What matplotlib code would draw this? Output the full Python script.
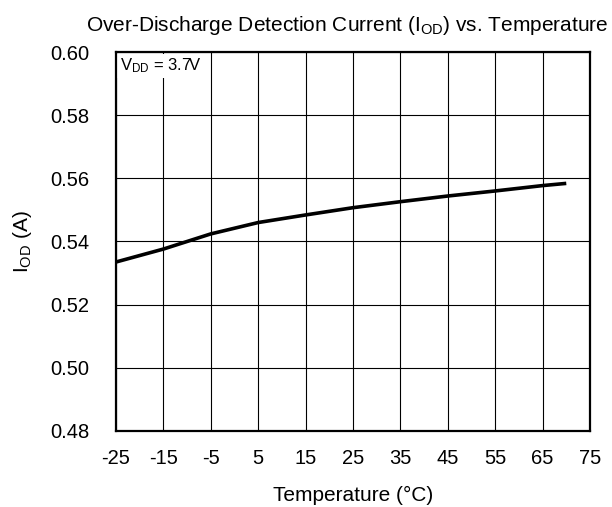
import numpy as np
import matplotlib
matplotlib.use("Agg")
import matplotlib.pyplot as plt

plt.rcParams['font.family'] = ['Liberation Sans', 'DejaVu Sans']
plt.rcParams['mathtext.fontset'] = 'custom'
plt.rcParams['mathtext.rm'] = 'Liberation Sans'
plt.rcParams['mathtext.it'] = 'Liberation Sans'
plt.rcParams['axes.unicode_minus'] = False

# data
temp = [-25, -15, -5, 5, 15, 25, 35, 45, 55, 65, 70]
i_od = [0.5335, 0.5376, 0.5424, 0.5460, 0.5484, 0.5507, 0.5526, 0.5544, 0.5560, 0.5577, 0.5584]

x_ticks = [-25, -15, -5, 5, 15, 25, 35, 45, 55, 65, 75]
y_ticks = [0.48, 0.50, 0.52, 0.54, 0.56, 0.58, 0.60]

fig = plt.figure(figsize=(6.12, 5.07), dpi=100)
ax = fig.add_axes([0.1895, 0.150, 0.7745, 0.7474])

ax.plot(temp, i_od, color='black', lw=2.6, solid_capstyle='butt', zorder=3)

ax.set_xlim(-25, 75)
ax.set_ylim(0.48, 0.60)
ax.set_xticks(x_ticks)
ax.set_yticks(y_ticks)
ax.set_yticklabels([f"{v:.2f}" for v in y_ticks])
ax.grid(True, color='black', lw=0.8)
ax.tick_params(length=0, labelsize=14.5)
ax.tick_params(axis='y', pad=19)
ax.tick_params(axis='x', pad=13)
for s in ax.spines.values():
    s.set_linewidth(1.6)
    s.set_zorder(4)

ax.text(-24.2, 0.5985, r'$\mathregular{V_{DD}}$ = 3.7V', fontsize=12, va='top', ha='left',
        bbox=dict(facecolor='white', edgecolor='none', pad=2), zorder=3)

ax.set_xlabel('Temperature (°C)', fontsize=15, labelpad=13)
ax.set_ylabel(r'$\mathregular{I_{OD}}$ (A)', fontsize=15, labelpad=12)
fig.text(0.568, 0.950, r'Over-Discharge Detection Current ($\mathregular{I_{OD}}$) vs. Temperature',
         fontsize=15, ha='center', va='center')

fig.savefig('out.png', dpi=100)
